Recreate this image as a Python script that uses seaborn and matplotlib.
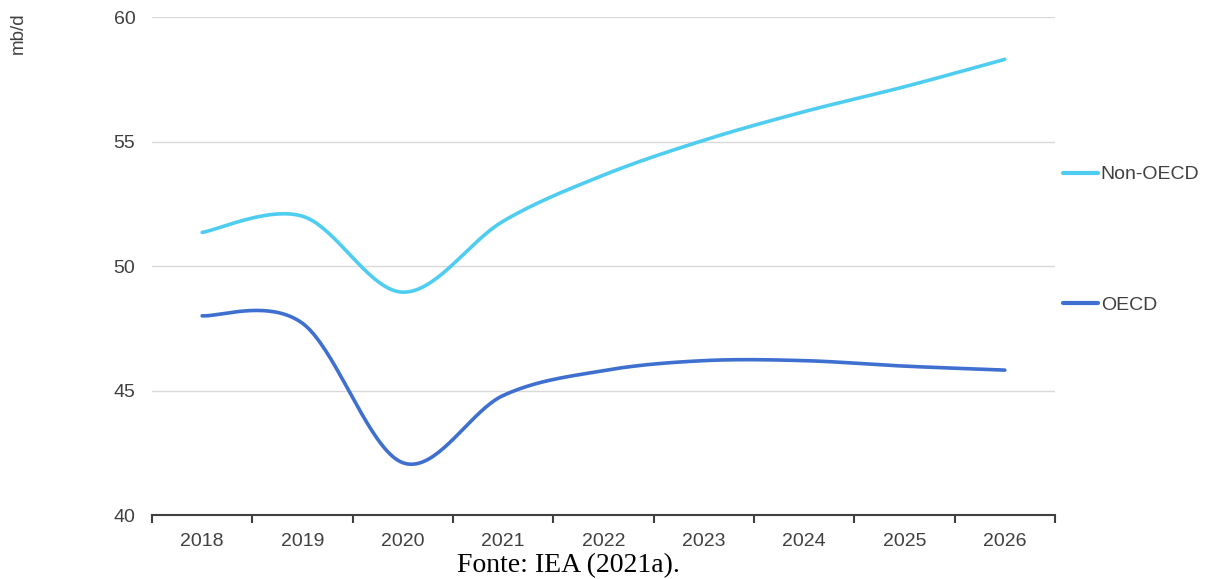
import numpy as np
import pandas as pd
import seaborn as sns
import matplotlib
matplotlib.use("Agg")
import matplotlib.pyplot as plt
from matplotlib.ticker import FixedLocator, NullFormatter, FixedFormatter

# Oil demand, million barrels per day
years = ["2018", "2019", "2020", "2021", "2022", "2023", "2024", "2025", "2026"]
non_oecd = [51.35, 52.0, 48.95, 51.8, 53.65, 55.05, 56.2, 57.2, 58.3]
oecd = [48.0, 47.7, 42.1, 44.8, 45.8, 46.2, 46.2, 45.98, 45.82]
series_names = ["Non-OECD", "OECD"]
series_colors = ["#4fcdf0", "#3f6fcf"]
y_ticks = [40, 45, 50, 55, 60]


def smooth(values, steps=40):
    """Piecewise cubic Bezier through the points (spreadsheet-style smoothing)."""
    p = np.column_stack([np.arange(len(values), dtype=float), np.asarray(values, float)])
    ext = np.vstack([p[0], p, p[-1]])
    xs, ys = [], []
    t = np.linspace(0, 1, steps)[:, None]
    for i in range(len(p) - 1):
        p0, p1 = p[i], p[i + 1]
        c1 = p0 + (ext[i + 2] - ext[i]) / 6.0
        c2 = p1 - (ext[i + 3] - ext[i + 1]) / 6.0
        b = ((1 - t) ** 3) * p0 + 3 * ((1 - t) ** 2) * t * c1 + 3 * (1 - t) * t ** 2 * c2 + t ** 3 * p1
        if i > 0:
            b = b[1:]
        xs.append(b[:, 0])
        ys.append(b[:, 1])
    return np.concatenate(xs), np.concatenate(ys)


frames = []
for name, vals in zip(series_names, [non_oecd, oecd]):
    sx, sy = smooth(vals)
    frames.append(pd.DataFrame({"x": sx, "y": sy, "series": name}))
df = pd.concat(frames, ignore_index=True)

sns.set_theme(style="white")
plt.rcParams["font.family"] = ["Liberation Sans", "DejaVu Sans"]

fig = plt.figure(figsize=(12.14, 5.79), dpi=100)
ax = fig.add_axes([0.1252, 0.1105, 0.869 - 0.1252, 0.9706 - 0.1105])

sns.lineplot(data=df, x="x", y="y", hue="series", hue_order=series_names,
             palette=series_colors, linewidth=2.6, sort=False, estimator=None,
             ax=ax, legend=False)

ax.set_xlim(-0.5, len(years) - 0.5)
ax.set_ylim(40, 60)
ax.set_xlabel("")
ax.set_ylabel("")

# y axis: gridlines only, no spine
ax.set_yticks(y_ticks)
ax.set_yticklabels([str(v) for v in y_ticks])
ax.yaxis.grid(True, color="#d9d9d9", linewidth=1.0)
ax.tick_params(axis="y", length=0, pad=12, labelsize=14, labelcolor="#404040")

# x axis: tick marks between categories, labels centred on categories
bounds = np.arange(len(years) + 1) - 0.5
ax.xaxis.set_major_locator(FixedLocator(bounds))
ax.xaxis.set_major_formatter(NullFormatter())
ax.xaxis.set_minor_locator(FixedLocator(np.arange(len(years))))
ax.xaxis.set_minor_formatter(FixedFormatter(years))
ax.tick_params(axis="x", which="major", direction="out", length=6, width=1.5,
               color="#404040", bottom=True)
ax.tick_params(axis="x", which="minor", length=0, pad=13, labelsize=14,
               labelcolor="#404040", bottom=True)

for side in ["left", "right", "top"]:
    ax.spines[side].set_visible(False)
ax.spines["bottom"].set_color("#404040")
ax.spines["bottom"].set_linewidth(1.5)

# legend to the right of the plot
handles = [plt.Line2D([], [], color=c, linewidth=3.0) for c in series_colors]
leg = ax.legend(handles, series_names, loc="upper left", bbox_to_anchor=(1.0, 0.717),
                frameon=False, fontsize=14, handlelength=1.8, handletextpad=0.15,
                labelspacing=5.8, borderaxespad=0.0, borderpad=0.4)
for txt in leg.get_texts():
    txt.set_color("#404040")

fig.text(18 / 1214, 1 - 33 / 579, "mb/d", rotation=90, ha="center", va="center",
         fontsize=13.5, color="#404040")

fig.text(568 / 1214, 1 - 566 / 579, "Fonte: IEA (2021a).", ha="center", va="center",
         fontsize=20, color="black", family=["Liberation Serif", "DejaVu Serif"])

fig.savefig("out.png", dpi=100, facecolor="white")
